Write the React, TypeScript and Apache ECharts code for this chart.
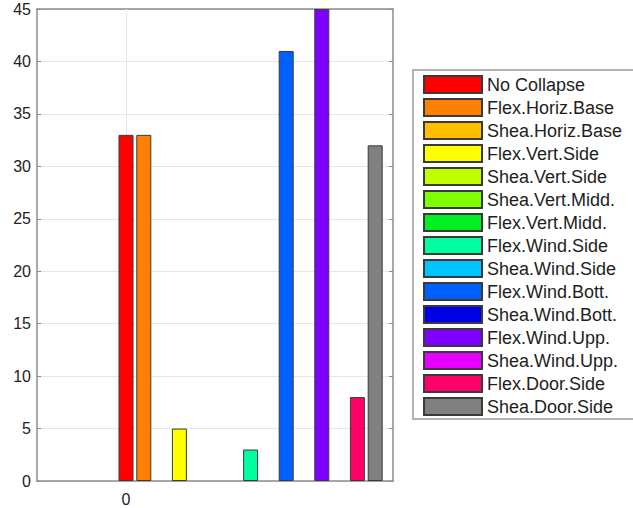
import React, { useEffect, useRef } from "react";
import * as echarts from "echarts";

const seriesNames = [
  "No Collapse",
  "Flex.Horiz.Base",
  "Shea.Horiz.Base",
  "Flex.Vert.Side",
  "Shea.Vert.Side",
  "Shea.Vert.Midd.",
  "Flex.Vert.Midd.",
  "Flex.Wind.Side",
  "Shea.Wind.Side",
  "Flex.Wind.Bott.",
  "Shea.Wind.Bott.",
  "Flex.Wind.Upp.",
  "Shea.Wind.Upp.",
  "Flex.Door.Side",
  "Shea.Door.Side",
];
const seriesValues = [33, 33, 0, 5, 0, 0, 0, 3, 0, 41, 0, 45, 0, 8, 32];
const barPositions = [0, 1, 2, 3, 4, 5, 6, 7, 8, 9, 10, 11, 12, 13, 14];
const seriesColors = [
  "#ff0000",
  "#ff7f00",
  "#ffbf00",
  "#ffff00",
  "#bfff00",
  "#7fff00",
  "#00ee22",
  "#00ffa0",
  "#00c4ff",
  "#0060ff",
  "#0000e8",
  "#8000ff",
  "#e600ff",
  "#ff0066",
  "#808080",
];
const xTickValues = [0];
const yTickLabels = ["0", "5", "10", "15", "20", "25", "30", "35", "40", "45"];

export default function App() {
  const ref = useRef<HTMLDivElement>(null);
  useEffect(() => {
    if (!ref.current) return;
    const chart = echarts.init(ref.current, undefined, { renderer: "svg" });
    const axisColor = "#8c8c8c";
    const gridColor = "#e6e6e6";
    const series: any[] = seriesNames.map((name, i) => ({
      name,
      type: "bar",
      barWidth: 15,
      barGap: "-100%",
      z: 3,
      data: seriesValues[i] > 0 ? [[barPositions[i], seriesValues[i]]] : [],
      itemStyle: {
        color: seriesColors[i],
        borderColor: "#3a3a3a",
        borderWidth: 1,
      },
    }));
    series.push({
      name: "grid-x",
      type: "line",
      data: [],
      z: 1,
      silent: true,
      markLine: {
        silent: true,
        symbol: "none",
        label: { show: false },
        lineStyle: { color: gridColor, type: "solid", width: 1 },
        data: xTickValues.map((v) => ({ xAxis: v })),
        z: 1,
      },
    });
    chart.setOption({
      animation: false,
      backgroundColor: "#ffffff",
      grid: { left: 37, top: 9, right: 240, bottom: 27, containLabel: false },
      legend: {
        orient: "vertical",
        left: 413,
        top: 70,
        padding: [5, 40, 3, 10],
        itemWidth: 58,
        itemHeight: 17,
        itemGap: 4,
        borderColor: "#9a9a9a",
        borderWidth: 1.5,
        icon: "rect",
        textStyle: {
          fontFamily: "Liberation Sans, Arial, sans-serif",
          fontSize: 18,
          color: "#1e1e1e",
        },
        data: seriesNames,
      },
      xAxis: [
        {
          type: "value",
          min: -5,
          max: 15,
          interval: 5,
          position: "bottom",
          axisLine: { show: true, onZero: false, lineStyle: { color: axisColor, width: 1.5 } },
          axisTick: { show: true, inside: true, length: 4, customValues: xTickValues, lineStyle: { color: axisColor } },
          axisLabel: {
            customValues: xTickValues,
            margin: 10,
            fontFamily: "Liberation Sans, Arial, sans-serif",
            fontSize: 16,
            color: "#222",
          },
          splitLine: { show: false },
        },
        {
          type: "value",
          min: -5,
          max: 15,
          interval: 5,
          position: "top",
          axisLine: { show: true, onZero: false, lineStyle: { color: axisColor, width: 1.5 } },
          axisTick: { show: true, inside: true, length: 4, customValues: xTickValues, lineStyle: { color: axisColor } },
          axisLabel: { show: false },
          splitLine: { show: false },
        },
      ],
      yAxis: [
        {
          type: "value",
          min: 0,
          max: 45,
          interval: 5,
          position: "left",
          axisLine: { show: true, onZero: false, lineStyle: { color: axisColor, width: 1.5 } },
          axisTick: { show: true, inside: true, length: 4, lineStyle: { color: axisColor } },
          axisLabel: {
            margin: 6,
            fontFamily: "Liberation Sans, Arial, sans-serif",
            fontSize: 16,
            color: "#222",
            formatter: (v: number) => yTickLabels[Math.round(v / 5)] ?? String(v),
          },
          splitLine: { show: true, lineStyle: { color: gridColor, type: "solid" } },
        },
        {
          type: "value",
          min: 0,
          max: 45,
          interval: 5,
          position: "right",
          axisLine: { show: true, onZero: false, lineStyle: { color: axisColor, width: 1.5 } },
          axisTick: { show: true, inside: true, length: 4, lineStyle: { color: axisColor } },
          axisLabel: { show: false },
          splitLine: { show: false },
        },
      ],
      series,
    });
    return () => chart.dispose();
  }, []);
  return (
    <div
      ref={ref}
      style={{ position: "fixed", left: 0, top: 0, width: 633, height: 508, background: "#fff" }}
    />
  );
}
